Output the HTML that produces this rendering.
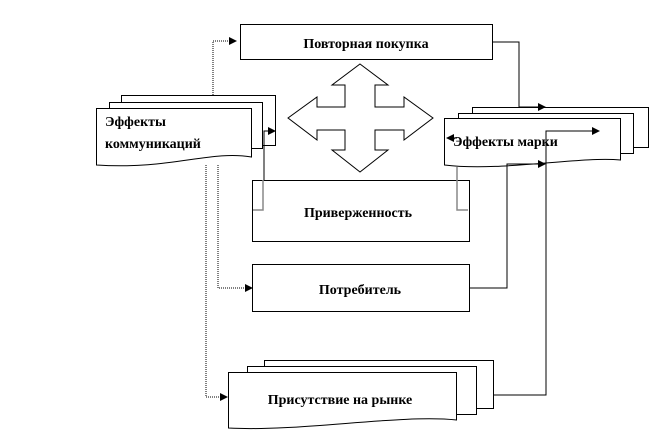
<!DOCTYPE html>
<html><head><meta charset="utf-8"><style>
html,body{margin:0;padding:0;background:#fff;width:649px;height:444px;overflow:hidden}
text{font-family:"Liberation Serif","Noto Serif CJK SC",serif;font-weight:bold;font-size:14px;fill:#000}
</style></head><body>
<svg width="649" height="444" viewBox="0 0 649 444" xmlns="http://www.w3.org/2000/svg">
<defs><marker id="a" markerWidth="8" markerHeight="8" refX="7" refY="4" orient="auto" markerUnits="userSpaceOnUse"><path d="M0,0 L8,4 L0,8 z" fill="#000"/></marker></defs>
<g fill="#fff" stroke="#000" stroke-width="1">
<rect x="240.5" y="24.5" width="252" height="35"/>
<rect x="121.5" y="95.5" width="154" height="50"/>
<rect x="109.5" y="102.5" width="153" height="46"/>
<path d="M96.5,108.5 H251.5 V157 C210,150 170,170 96.5,165 Z"/>
<rect x="472.5" y="107.5" width="176" height="40"/>
<rect x="458.5" y="113.5" width="175" height="40"/>
<path d="M444.5,118.5 H620.5 V160 C580,156 500,172 444.5,165 Z"/>
<rect x="252.5" y="180.5" width="217" height="61"/>
<rect x="252.5" y="264.5" width="217" height="47"/>
<rect x="264.5" y="360.5" width="229" height="48"/>
<rect x="247.5" y="366.5" width="229" height="48"/>
<path d="M228.5,372.5 H456.5 V420 C400,414 300,432 228.5,428 Z"/>
<path d="M360,64 L388,85 L375,85 L375,107 L404,107 L404,97 L433,118 L404,140 L404,130 L375,130 L375,150 L388,150 L360,172 L332,150 L345,150 L345,130 L317,130 L317,140 L288,118 L317,97 L317,107 L345,107 L345,85 L332,85 Z"/>
</g>
<g fill="none" stroke="#888" stroke-width="1.5">
<path d="M263,180 V210 H253"/><path d="M457,167 V210 H468"/>
</g>
<g fill="none" stroke="#000" stroke-width="1">
<path d="M213,95 V41 H236" stroke-dasharray="1,1" marker-end="url(#a)"/>
<path d="M492,42 H519 V107 H545" marker-end="url(#a)"/>
<path d="M264,148 V131 H275" marker-end="url(#a)"/>
<path d="M264,148 V180"/>
<path d="M218,165 V288 H252" stroke-dasharray="1,1" marker-end="url(#a)"/>
<path d="M206,165 V397 H227" stroke-dasharray="1,1" marker-end="url(#a)"/>
<path d="M469,288 H507 V164 H545" marker-end="url(#a)"/>
<path d="M493,395 H546 V131 H599" marker-end="url(#a)"/>
<path d="M457,138 H447" marker-end="url(#a)"/>
</g>
<text x="366" y="48" text-anchor="middle">Повторная покупка</text>
<text x="105" y="126">Эффекты</text>
<text x="105" y="148">коммуникаций</text>
<text x="453" y="146">Эффекты  марки</text>
<text x="358" y="217" text-anchor="middle">Приверженность</text>
<text x="360" y="294" text-anchor="middle">Потребитель</text>
<text x="340" y="404" text-anchor="middle">Присутствие на рынке</text>
</svg>
</body></html>
